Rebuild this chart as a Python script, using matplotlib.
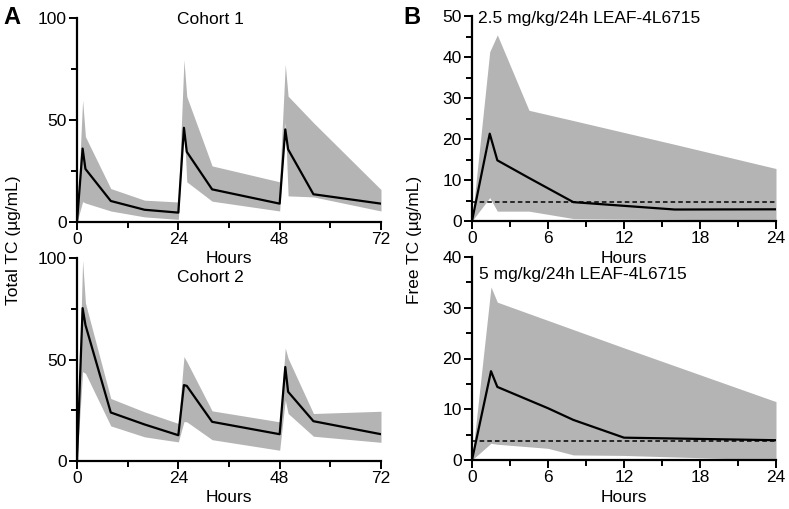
import matplotlib
matplotlib.use("Agg")
import matplotlib.pyplot as plt
from matplotlib.ticker import MultipleLocator

plt.rcParams['font.family'] = ['Liberation Sans', 'DejaVu Sans']

# ---------------- Data ----------------
# Panel A: total TC, three doses over 72 h
t_total = [0, 1.33, 2, 8, 16, 24, 25.33, 26, 32, 48, 49.33, 50, 56, 72]
c1_mean = [0, 36, 26, 10.3, 6, 4.6, 46.2, 34.4, 16, 9, 45.4, 35.6, 13.6, 9]
c1_upper = [0, 59.8, 41.8, 16.4, 10.7, 9.8, 79.5, 61.5, 27.5, 19.7, 77.3, 61.7, 48.7, 15.9]
c1_lower = [0, 10, 9.3, 5.4, 2.5, 1.3, 48, 19.7, 10.2, 5.4, 49, 12.8, 12.3, 5.4]

c2_mean = [0, 75.3, 67, 23.9, 18, 12.7, 37.4, 37, 19.3, 13.2, 46.3, 34.1, 19.6, 13.2]
c2_upper = [0, 98.8, 77.8, 30.8, 24.2, 18.5, 51.4, 49, 24.7, 19.3, 55.7, 50.6, 23.4, 24.5]
c2_lower = [0, 44, 43.2, 17.3, 11.9, 9.4, 19.4, 19.3, 10.5, 5.3, 30, 23.4, 12.2, 9.2]

# Panel B: free TC over 24 h
t_b1 = [0, 1.4, 2, 4.5, 8, 16, 24]
b1_mean = [0, 21.3, 14.8, 10.5, 4.6, 2.8, 2.85]
b1_upper = [0, 41.3, 45.4, 27, 24.5, 18.7, 12.8]
b1_lower = [0, 5.7, 2.4, 2.4, 0.6, 0.4, 0.2]
b1_threshold = 4.7

t_b2 = [0, 1.5, 2, 6, 8, 12, 24]
b2_mean = [0, 17.5, 14.4, 10.2, 7.9, 4.4, 3.9]
b2_upper = [0, 34.1, 31.1, 27.5, 25.7, 22.1, 11.5]
b2_lower = [0, 3.3, 3.1, 2.3, 1.0, 0.9, 0]
b2_threshold = 3.7

titles_a = ["Cohort 1", "Cohort 2"]
titles_b = ["2.5 mg/kg/24h LEAF-4L6715", "5 mg/kg/24h LEAF-4L6715"]

GREY = "#b4b4b4"
FS = 12.5

fig = plt.figure(figsize=(7.89, 5.09), dpi=100)
W, H = 789, 509

def ax_at(x0, x1, ytop, ybot):
    a = fig.add_axes([x0 / W, 1 - ybot / H, (x1 - x0) / W, (ybot - ytop) / H])
    a.patch.set_alpha(0)
    return a

axA1 = ax_at(77, 381, 18, 222)
axA2 = ax_at(77, 381, 258, 461)
axB1 = ax_at(472, 776, 16, 221)
axB2 = ax_at(472, 776, 257, 460)

def style(ax, xmax, xmaj, xmin, ymax, ymaj, ymin, lp):
    ax.set_xlim(0, xmax)
    ax.set_ylim(0, ymax)
    for s in ['top', 'right']:
        ax.spines[s].set_visible(False)
    for s in ['left', 'bottom']:
        ax.spines[s].set_linewidth(1.6)
    ax.xaxis.set_major_locator(MultipleLocator(xmaj))
    ax.xaxis.set_minor_locator(MultipleLocator(xmin))
    ax.yaxis.set_major_locator(MultipleLocator(ymaj))
    ax.yaxis.set_minor_locator(MultipleLocator(ymin))
    ax.tick_params(which='major', length=5.5, width=1.4, labelsize=FS, pad=2)
    ax.tick_params(which='minor', length=4, width=1.4)
    ax.set_xlabel("Hours", fontsize=FS, labelpad=lp)

for ax, mean, up, lo, lp in [(axA1, c1_mean, c1_upper, c1_lower, 2.5),
                             (axA2, c2_mean, c2_upper, c2_lower, 2.5)]:
    ax.fill_between(t_total, lo, up, color=GREY, linewidth=0, zorder=1)
    ax.plot(t_total, mean, color='black', lw=1.6, zorder=3)
    style(ax, 72, 24, 12, 100, 50, 25, lp)

for ax, t, mean, up, lo, thr, ymax in [(axB1, t_b1, b1_mean, b1_upper, b1_lower, b1_threshold, 50),
                                        (axB2, t_b2, b2_mean, b2_upper, b2_lower, b2_threshold, 40)]:
    ax.fill_between(t, lo, up, color=GREY, linewidth=0, zorder=1)
    ax.plot(t, mean, color='black', lw=1.6, zorder=3)
    ax.axhline(thr, color='black', lw=1.1, ls=(0, (3, 2)), zorder=2)
    style(ax, 24, 6, 3, ymax, 10, 5, 3.5)

fig.text(210 / W, 1 - 20 / H, titles_a[0], fontsize=FS, ha='center', va='center')
fig.text(210 / W, 1 - 277 / H, titles_a[1], fontsize=FS, ha='center', va='center')
fig.text(478 / W, 1 - 19 / H, titles_b[0], fontsize=FS, ha='left', va='center')
fig.text(479 / W, 1 - 275 / H, titles_b[1], fontsize=FS, ha='left', va='center')

fig.text(14 / W, 1 - 240 / H, "Total TC (µg/mL)", fontsize=FS, rotation=90, ha='center', va='center')
fig.text(415 / W, 1 - 240 / H, "Free TC (µg/mL)", fontsize=FS, rotation=90, ha='center', va='center')

fig.text(3 / W, 1 - 18 / H, "A", fontsize=17, fontweight='bold', ha='left', va='center')
fig.text(403 / W, 1 - 18 / H, "B", fontsize=17, fontweight='bold', ha='left', va='center')

fig.savefig("out.png", dpi=100)
